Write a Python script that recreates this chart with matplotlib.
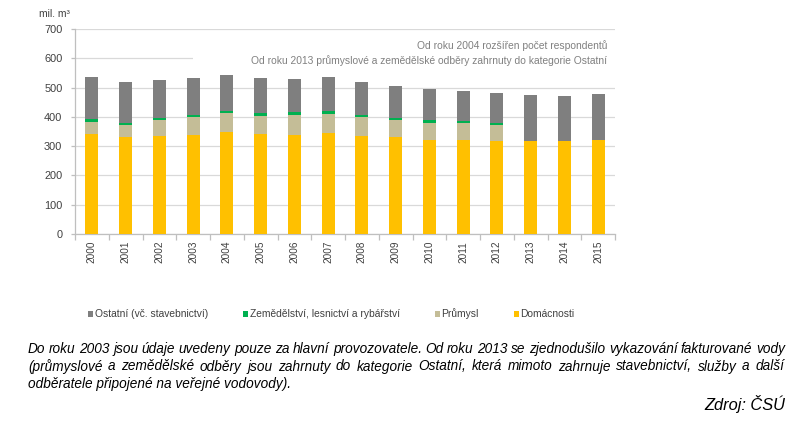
import matplotlib
matplotlib.use('Agg')
import matplotlib.pyplot as plt
from matplotlib.patches import Patch, Rectangle
import matplotlib.transforms as mtransforms
import numpy as np

plt.rcParams['font.family'] = ['Liberation Sans', 'DejaVu Sans']

years = [str(y) for y in range(2000, 2016)]
domacnosti = [342, 332, 334, 339, 350, 340, 338, 345, 334, 330, 322, 320, 318, 316, 317, 321]
prumysl = [42, 40, 54, 61, 62, 64, 68, 65, 64, 58, 58, 58, 55, 0, 0, 0]
zemedelstvi = [7, 6, 7, 8, 9, 9, 9, 9, 9, 9, 8, 8, 7, 0, 0, 0]
ostatni = [145, 142, 132, 125, 122, 120, 114, 116, 112, 110, 106, 103, 103, 157, 153, 157]

series_labels = ['Ostatní (vč. stavebnictví)', 'Zemědělství, lesnictví a rybářství',
                 'Průmysl', 'Domácnosti']
colors = {'ost': '#7F7F7F', 'zem': '#00B050', 'pru': '#C4BD97', 'dom': '#FFC000'}

note1 = 'Od roku 2004 rozšířen počet respondentů'
note2 = 'Od roku 2013 průmyslové a zemědělské odběry zahrnuty do kategorie Ostatní'
caption1 = ('Do roku 2003 jsou údaje uvedeny pouze za hlavní provozovatele. '
            'Od roku 2013 se zjednodušilo vykazování fakturované vody')
caption2 = ('(průmyslové a zemědělské odběry jsou zahrnuty do kategorie Ostatní, '
            'která mimoto zahrnuje stavebnictví, služby a další')
caption3 = 'odběratele připojené na veřejné vodovody).'
source = 'Zdroj: ČSÚ'

W, H = 809, 425
fig = plt.figure(figsize=(W / 100, H / 100), dpi=100)
ax = fig.add_axes([75 / W, 1 - 234 / H, 540 / W, 205 / H])

x = np.arange(len(years))
bw = 0.39
dom = np.array(domacnosti, float)
pru = np.array(prumysl, float)
zem = np.array(zemedelstvi, float)
ost = np.array(ostatni, float)
ax.bar(x, dom, bw, color=colors['dom'], zorder=3)
ax.bar(x, pru, bw, bottom=dom, color=colors['pru'], zorder=3)
ax.bar(x, zem, bw, bottom=dom + pru, color=colors['zem'], zorder=3)
ax.bar(x, ost, bw, bottom=dom + pru + zem, color=colors['ost'], zorder=3)

ax.set_xlim(-0.5, len(years) - 0.5)
ax.set_ylim(0, 700)
ax.set_yticks(range(0, 701, 100))
ax.grid(axis='y', color='#D9D9D9', lw=0.9, zorder=0)
ax.set_axisbelow(True)
for s in ['top', 'right']:
    ax.spines[s].set_visible(False)
for s in ['left', 'bottom']:
    ax.spines[s].set_color('#BFBFBF')
    ax.spines[s].set_linewidth(0.9)

ax.set_xticks(x)
ax.set_xticklabels(years, rotation=90, fontsize=7.2, color='#404040')
ax.set_xticks(np.arange(-0.5, len(years), 1.0), minor=True)
ax.tick_params(axis='x', which='major', length=0, pad=5)
ax.tick_params(axis='x', which='minor', length=4, color='#BFBFBF', width=0.9)
ax.tick_params(axis='y', length=3, color='#BFBFBF', width=0.9, labelsize=7.9,
               labelcolor='#404040', pad=6)

# white box behind annotation (hides part of the 600 gridline)
trans = mtransforms.blended_transform_factory(ax.transAxes, ax.transData)
ax.add_patch(Rectangle(((193 - 75) / 540, 567), 1 - (193 - 75) / 540, 95,
                       transform=trans, facecolor='white', edgecolor='none', zorder=1))

fig.text(607 / W, 1 - 49 / H, note1, ha='right', va='baseline', fontsize=7.4, color='#808080')
fig.text(607 / W, 1 - 64.5 / H, note2, ha='right', va='baseline', fontsize=7.4, color='#808080')
fig.text(39 / W, 1 - 14 / H, 'mil. m³', ha='left', va='center', fontsize=7.4, color='#404040')

handles = [Patch(facecolor=colors[k], edgecolor='none') for k in ['ost', 'zem', 'pru', 'dom']]
fig.legend(handles, series_labels, loc='center left', bbox_to_anchor=(88 / W, 1 - 314 / H),
           ncol=4, frameon=False, fontsize=7.4, handlelength=0.5, handleheight=0.5,
           handletextpad=0.15, columnspacing=3.4, borderpad=0, borderaxespad=0,
           labelcolor='#404040')

# caption, justified
renderer = fig.canvas.get_renderer()
cap_kw = dict(fontstyle='italic', color='#000000', va='baseline', ha='left')


def text_width(s, size):
    t = fig.text(0, 0, s, fontsize=size, **cap_kw)
    w = t.get_window_extent(renderer).width
    t.remove()
    return w


cap_size = 10 * 264 / text_width(caption3, 10)


def justified(text, x0, x1, ybase):
    words = text.split(' ')
    natural = text_width(text, cap_size)
    extra = ((x1 - x0) - natural) / (len(words) - 1)
    for i, w in enumerate(words):
        prefix = ' '.join(words[:i]) + (' ' if i else '')
        px = x0 + (text_width(prefix, cap_size) if i else 0) + i * extra
        fig.text(px / W, 1 - ybase / H, w, fontsize=cap_size, **cap_kw)


justified(caption1, 28, 785, 353)
justified(caption2, 28, 784, 370.5)
fig.text(28 / W, 1 - 388 / H, caption3, fontsize=cap_size, **cap_kw)
fig.text(785 / W, 1 - 410 / H, source, fontsize=cap_size * 1.2, fontstyle='italic',
         color='#000000', va='baseline', ha='right')

fig.savefig('out.png', dpi=100)
